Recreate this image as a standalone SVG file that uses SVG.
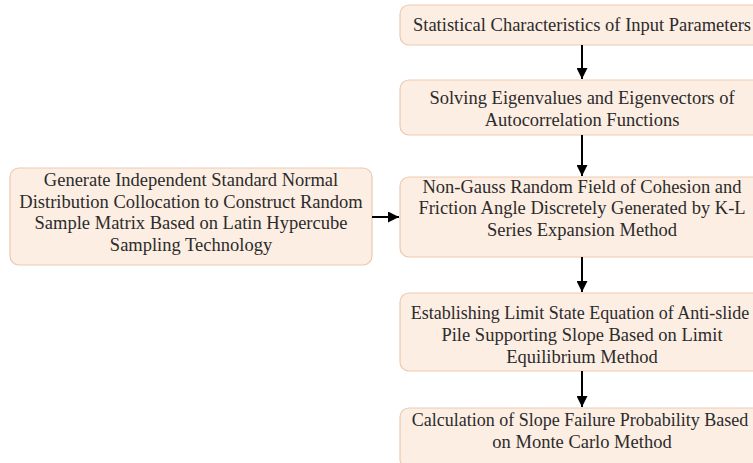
<svg xmlns="http://www.w3.org/2000/svg" width="753" height="463" viewBox="0 0 753 463">
<style>
.box{fill:#fdeee3;stroke:#ebc9b0;stroke-width:1.2}
.t{font-family:"Liberation Serif","Times New Roman",serif;font-size:18.5px;fill:#2b2b2b;text-anchor:middle}
.s{font-size:18px}
.c{stroke:#000;stroke-width:2;fill:none}
</style>
<defs>
<marker id="ah" viewBox="0 0 10 10" refX="10" refY="5" markerWidth="5.5" markerHeight="5.5" orient="auto" markerUnits="strokeWidth">
<path d="M0,0L10,5L0,10z" fill="#000"/>
</marker>
</defs>
<rect width="753" height="463" fill="#fff"/>
<g id="n1"><rect class="box" x="400" y="5" width="364" height="40" rx="9"/>
<text class="t" x="582" y="31">Statistical Characteristics of Input Parameters</text></g>
<g id="n2"><rect class="box" x="400" y="80" width="364" height="55" rx="9"/>
<text class="t" x="582" y="104">Solving Eigenvalues and Eigenvectors of</text>
<text class="t" x="582" y="126">Autocorrelation Functions</text></g>
<g id="n3"><rect class="box" x="400" y="177" width="364" height="80" rx="9"/>
<text class="t" x="582" y="193">Non-Gauss Random Field of Cohesion and</text>
<text class="t" x="582" y="214">Friction Angle Discretely Generated by K-L</text>
<text class="t" x="582" y="236">Series Expansion Method</text></g>
<g id="n4"><rect class="box" x="400" y="293" width="364" height="78" rx="9"/>
<text class="t s" x="580" y="319">Establishing Limit State Equation of Anti-slide</text>
<text class="t" x="582" y="341">Pile Supporting Slope Based on Limit</text>
<text class="t" x="582" y="363">Equilibrium Method</text></g>
<g id="n5"><rect class="box" x="400" y="408" width="364" height="60" rx="9"/>
<text class="t s" x="580" y="426">Calculation of Slope Failure Probability Based</text>
<text class="t" x="582" y="448">on Monte Carlo Method</text></g>
<g id="n6"><rect class="box" x="10" y="168" width="362" height="97" rx="9"/>
<text class="t" x="191" y="186">Generate Independent Standard Normal</text>
<text class="t" x="191" y="208">Distribution Collocation to Construct Random</text>
<text class="t" x="191" y="229">Sample Matrix Based on Latin Hypercube</text>
<text class="t" x="191" y="251">Sampling Technology</text></g>
<g id="connectors">
<line class="c" x1="582" y1="45" x2="582" y2="79" marker-end="url(#ah)"/>
<line class="c" x1="582" y1="135" x2="582" y2="176" marker-end="url(#ah)"/>
<line class="c" x1="582" y1="257" x2="582" y2="292" marker-end="url(#ah)"/>
<line class="c" x1="582" y1="371" x2="582" y2="407" marker-end="url(#ah)"/>
<line class="c" x1="372" y1="217" x2="399" y2="217" marker-end="url(#ah)"/>
</g>
</svg>
